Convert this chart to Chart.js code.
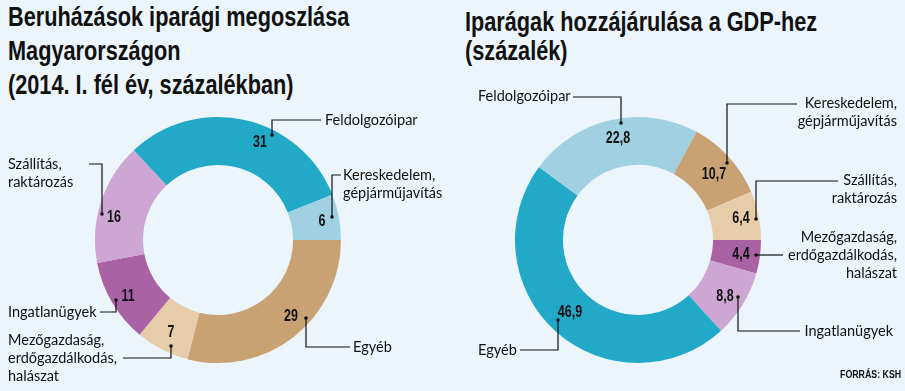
<!DOCTYPE html>
<html>
<head>
<meta charset="utf-8">
<script src="https://cdn.jsdelivr.net/npm/chart.js@4"></script>
<style>
  html, body { margin: 0; padding: 0; }
  body { width: 905px; height: 391px; background: #ebf5fb; position: relative; overflow: hidden; }
  canvas { position: absolute; top: 0; }
  #left-chart { left: 0; }
  #right-chart { left: 452px; }
  .title { position: absolute; font-family: "Liberation Sans", sans-serif; font-weight: bold; font-size: 28px; color: #111; transform: scaleX(0.775); transform-origin: left top; white-space: nowrap; }
  #left-title { left: 8px; top: 0; line-height: 34px; }
  #right-title { left: 465px; top: 8px; line-height: 28.5px; }
  #source { position: absolute; left: 840px; top: 368px; font-family: "Liberation Sans", sans-serif; font-weight: bold; font-size: 11px; color: #111; transform: scaleX(0.8); transform-origin: left top; white-space: nowrap; }
</style>
</head>
<body>
<div class="title" id="left-title">Beruházások iparági megoszlása<br>Magyarországon<br>(2014. I. fél év, százalékban)</div>
<div class="title" id="right-title">Iparágak hozzájárulása a GDP-hez<br>(százalék)</div>
<canvas id="left-chart" width="452" height="391"></canvas>
<canvas id="right-chart" width="453" height="391"></canvas>
<div id="source">FORRÁS: KSH</div>
<script>
// data: investments by sector (2014 H1, %)
const investLabels = [['Egyéb'], ['Mezőgazdaság,', 'erdőgazdálkodás,', 'halászat'], ['Ingatlanügyek'], ['Szállítás,', 'raktározás'], ['Feldolgozóipar'], ['Kereskedelem,', 'gépjárműjavítás']]
const investValues = [29, 7, 11, 16, 31, 6]
const investText = ['29', '7', '11', '16', '31', '6']

// data: sector share of GDP (%)
const gdpLabels = [['Mezőgazdaság,', 'erdőgazdálkodás,', 'halászat'], ['Ingatlanügyek'], ['Egyéb'], ['Feldolgozóipar'], ['Kereskedelem,', 'gépjárműjavítás'], ['Szállítás,', 'raktározás']]
const gdpValues = [4.4, 8.8, 46.9, 22.8, 10.7, 6.4]
const gdpText = ['4,4', '8,8', '46,9', '22,8', '10,7', '6,4']

const teal = '#22a9c7', lightBlue = '#9fd1e2', tan = '#c9a274', lightTan = '#e7cca9', purple = '#a963a5', lightPurple = '#cda6d3'
const investColors = [tan, lightTan, purple, lightPurple, teal, lightBlue]
const gdpColors = [purple, lightPurple, teal, lightBlue, tan, lightTan]

// callout layout, offsets from the doughnut centre
// v = value text, path = leader (first point gets the dot), lab = label start, align
const investCallouts = [
    { v: [73, 77], path: [[88, 78], [88, 107], [132, 107]], lab: [135, 107], align: 'left' },
    { v: [-47, 93], path: [[-47, 106], [-47, 118], [-95, 118]], lab: [-210, 100], align: 'left' },
    { v: [-90, 57], path: [[-102, 60], [-102, 72], [-118, 72]], lab: [-210, 72], align: 'left' },
    { v: [-104, -22], path: [[-116, -26], [-116, -76], [-129, -76]], lab: [-210, -76], align: 'left' },
    { v: [42, -97], path: [[54, -105], [54, -120], [103, -120]], lab: [107, -120], align: 'left' },
    { v: [104, -18], path: [[114, -23], [114, -65], [123, -65]], lab: [125, -65], align: 'left' }
]
const gdpCallouts = [
    { v: [103, 15], path: [[118, 15], [145, 15]], lab: [259, -3], align: 'right' },
    { v: [87, 57], path: [[100, 57], [100, 91], [162, 91]], lab: [255, 91], align: 'right' },
    { v: [-68, 73], path: [[-80, 80], [-80, 110], [-118, 110]], lab: [-160, 110], align: 'left' },
    { v: [-20, -101], path: [[-17, -117], [-17, -143], [-65, -143]], lab: [-160, -144], align: 'left' },
    { v: [76, -65], path: [[89, -77], [89, -136], [159, -136]], lab: [259, -137], align: 'right' },
    { v: [103, -21], path: [[118, -21], [118, -59], [200, -59]], lab: [259, -60], align: 'right' }
]

const calloutPlugin = {
    id: 'callouts',
    afterDatasetsDraw(chart) {
        const meta = chart.getDatasetMeta(0)
        const cx = meta.data[0].x
        const cy = meta.data[0].y
        const opts = chart.options.plugins.callouts
        const ctx = chart.ctx
        ctx.save()
        opts.items.forEach((c, i) => {
            // value, squeezed to look condensed
            ctx.fillStyle = '#111'
            ctx.font = 'bold 16px "Liberation Sans"'
            ctx.textAlign = 'center'
            ctx.textBaseline = 'middle'
            ctx.save()
            ctx.translate(cx + c.v[0], cy + c.v[1])
            ctx.scale(0.78, 1)
            ctx.fillText(opts.values[i], 0, 0)
            ctx.restore()
            // leader
            ctx.strokeStyle = '#111'
            ctx.lineWidth = 1.2
            ctx.beginPath()
            c.path.forEach((p, j) => {
                if (j === 0) ctx.moveTo(cx + p[0], cy + p[1])
                else ctx.lineTo(cx + p[0], cy + p[1])
            })
            ctx.stroke()
            ctx.beginPath()
            ctx.arc(cx + c.path[0][0], cy + c.path[0][1], 1.8, 0, Math.PI * 2)
            ctx.fill()
            // label
            ctx.font = '14.5px Lato'
            ctx.textAlign = c.align
            opts.labels[i].forEach((line, k) => {
                ctx.fillText(line, cx + c.lab[0], cy + c.lab[1] + k * 18)
            })
        })
        ctx.restore()
    }
}

function makeDoughnut(id, values, colors, texts, labels, callouts, padding) {
    return new Chart(document.getElementById(id), {
        type: 'doughnut',
        data: {
            labels: labels.map(l => l.join(' ')),
            datasets: [{ data: values, backgroundColor: colors, borderWidth: 0 }]
        },
        options: {
            responsive: false,
            animation: false,
            rotation: 90,
            cutout: '61%',
            layout: { padding: padding },
            plugins: {
                legend: { display: false },
                tooltip: { enabled: false },
                callouts: { items: callouts, values: texts, labels: labels }
            }
        },
        plugins: [calloutPlugin]
    })
}

makeDoughnut('left-chart', investValues, investColors, investText, investLabels, investCallouts,
    { left: 95, top: 117, right: 111, bottom: 28 })
makeDoughnut('right-chart', gdpValues, gdpColors, gdpText, gdpLabels, gdpCallouts,
    { left: 63, top: 117, right: 144, bottom: 28 })
</script>
</body>
</html>
